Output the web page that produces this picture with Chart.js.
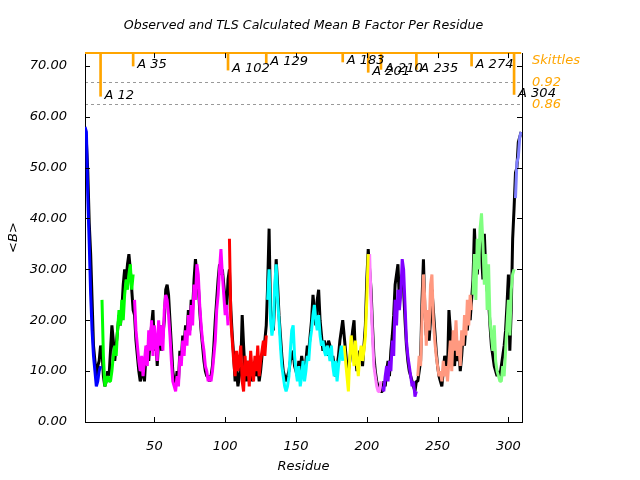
<!DOCTYPE html>
<html>
<head>
<meta charset="utf-8">
<script src="https://cdn.jsdelivr.net/npm/chart.js@4"></script>
<style>html,body{margin:0;padding:0;background:#fff}</style>
</head>
<body>
<canvas id="myChart" width="640" height="480"></canvas>
<script>
//------------------------ data ------------------------
// observed mean B per residue (residues 1..309)
var observedB = [
    54, 55, 49, 39, 33, 24, 15, 12, 9, 11, 12, 15,
    14, 9, 7, 8, 10, 9, 14, 19, 16, 12, 15, 18, 21, 19, 22, 27, 30, 28, 31, 33, 30, 26, 22,
    21, 16, 13, 10, 8, 9, 12, 8, 13, 15, 12, 16, 19, 22, 14, 17, 11, 16, 19, 14,
    17, 20, 26, 27, 25, 20, 15, 10, 8, 7, 10, 8, 14, 12, 17, 15, 19, 17, 22, 18,
    24, 22, 28, 32, 29, 27, 22, 18, 15, 12, 10, 9, 9, 8, 9, 11, 15, 20, 24, 28,
    31, 29, 30, 27, 24, 22, 28,
    30, 22, 17, 13, 8, 10, 7, 9, 11, 21, 15, 10, 8, 12, 9, 11, 8, 10, 12, 9, 11, 8, 10, 13, 15, 16, 19,
    27, 38, 22, 19, 18, 24, 32, 27, 21, 17, 13, 10, 9, 8, 9, 10, 12, 13, 14, 11,
    10, 9, 12, 10, 13, 11, 9, 12, 15, 14, 17, 20, 25, 22, 19, 24, 26, 20, 17, 14,
    16, 15, 13, 16, 15, 12, 13, 11, 9, 11, 13, 16, 18, 20,
    17, 14, 11, 10, 12, 15, 18, 20, 13, 10, 12, 14, 13, 11, 15, 19, 28, 34,
    30, 26, 19, 13, 10, 8, 7, 7, 6,
    6, 8, 7, 10, 12, 9, 14, 17, 21, 27, 29, 31, 24, 27, 29, 26, 20, 15, 12, 10, 9, 8, 7, 6, 8,
    8, 10, 12, 24, 32, 22, 17, 19, 16, 20, 26, 22, 18, 14, 11, 9, 8, 7, 10, 13,
    12, 10, 22, 18, 13, 15, 11, 16, 12, 14, 10, 13, 17, 15, 19, 18, 22, 20, 24,
    28, 38, 31, 29, 34, 36, 33, 28, 37, 30, 26, 24, 19, 15, 13, 11, 10, 9, 10, 9,
    11, 13, 15, 18, 23, 29, 14, 22, 36, 42,
    49, 50, 55, 56, 57
];
// TLS calculated mean B per residue
var tlsB = [
    58, 57, 44, 35, 25, 18, 13, 10, 7, 8, 10, 11,
    24, 13, 7, 8, 9, 8, 8, 10, 13, 15, 13, 18, 22, 19, 24, 20, 25, 28, 26, 29, 31, 26, 29,
    24, 18, 15, 12, 10, 13, 9, 12, 15, 11, 18, 14, 20, 13, 19, 16, 12, 20, 15, 19,
    14, 22, 25, 24, 21, 17, 12, 8, 7, 6, 9, 7, 13, 11, 16, 13, 18, 15, 21, 17,
    23, 19, 27, 24, 31, 29, 23, 19, 16, 14, 11, 10, 8, 9, 8, 10, 13, 16, 22, 25,
    30, 34, 29, 25, 21, 23, 19,
    36, 20, 16, 12, 9, 14, 10, 12, 15, 8, 6, 13, 9, 12, 7, 14, 10, 8, 13, 10, 15, 9, 12, 14, 16, 13, 17,
    24, 30, 20, 17, 19, 27, 31, 24, 20, 15, 11, 9, 7, 6, 7, 9, 14, 18, 19, 13,
    10, 8, 11, 7, 9, 12, 8, 10, 13, 12, 16, 18, 21, 23, 20, 18, 21, 17, 15, 16,
    14, 13, 15, 14, 12, 15, 11, 9, 12, 8, 11, 13, 15, 12,
    15, 12, 9, 6, 13, 17, 14, 11, 16, 12, 9, 13, 15, 12, 14, 17, 24, 33,
    33, 24, 17, 11, 9, 7, 6, 6, 8,
    7, 6, 9, 11, 8, 12, 10, 16, 13, 24, 19, 26, 22, 25, 32, 30, 23, 16, 13, 11, 9, 7, 8, 5, 6,
    9, 13, 11, 20, 29, 24, 15, 22, 18, 27, 29, 20, 16, 13, 11, 9, 10, 8, 12, 9,
    11, 8, 12, 16, 10, 18, 14, 20, 13, 16, 11, 18, 15, 21, 17, 24, 19, 25, 22,
    25, 33, 24, 36, 30, 38, 41, 35, 27, 33, 22, 31, 20, 17, 14, 19, 12, 10, 9, 8,
    8, 11, 9, 14, 19, 24, 17, 26, 29, 30,
    44, 51, 52, 56, 57
];
// last residue of each TLS group and its colour
var groupEnds = [12, 35, 102, 129, 183, 201, 210, 235, 274, 304, 309];
var groupColors = ['#0000ff', '#00ff00', '#ff00ff', '#ff0000', '#00ffff', '#ffff00',
                   '#ff80ff', '#8000ff', '#ff9980', '#80ff80', '#8080ff'];
var xTicks = [50, 100, 150, 200, 250, 300];
var yTicks = [0, 10, 20, 30, 40, 50, 60, 70];
// skittles strip
var skittlesResidues = [12, 35, 102, 129, 183, 201, 210, 235, 274, 304];
var skittlesLabels = ['A 12', 'A 35', 'A 102', 'A 129', 'A 183', 'A 201', 'A 210', 'A 235', 'A 274', 'A 304'];
var skittlesValues = [0.883, 0.965, 0.954, 0.973, 0.976, 0.948, 0.956, 0.956, 0.965, 0.888];
var skittlesTicks = [0.86, 0.92];
var skittlesTitleAt = 0.98;

var FONT = 'DejaVu Sans';
Chart.defaults.font.family = FONT;
Chart.defaults.font.size = 13;
Chart.defaults.font.style = 'italic';
Chart.defaults.color = '#000';

//------------------------ datasets ------------------------
var datasets = [];
datasets.push({
    label: 'Observed',
    data: observedB.map(function (v, i) { return {x: i + 1, y: v}; }),
    borderColor: '#000', borderWidth: 3, pointRadius: 0, borderJoinStyle: 'bevel',
    order: 3
});
var start = 1;
groupEnds.forEach(function (end, g) {
    var pts = [];
    for (var r = start; r <= end; r++) pts.push({x: r, y: tlsB[r - 1]});
    datasets.push({
        label: 'TLS ' + (g + 1),
        data: pts,
        borderColor: groupColors[g], borderWidth: 3, pointRadius: 0, borderJoinStyle: 'bevel',
        order: 2
    });
    start = end + 1;
});
// skittles: top line and boundary spikes
datasets.push({
    type: 'line', label: 'Skittles', yAxisID: 'y2',
    data: [{x: 1, y: 1}, {x: groupEnds[groupEnds.length - 1], y: 1}],
    borderColor: '#ffa500', borderWidth: 2, pointRadius: 0, clip: false, order: 1
});
datasets.push({
    type: 'bar', label: 'Boundaries', yAxisID: 'y2',
    data: skittlesResidues.map(function (r, i) { return {x: r, y: [skittlesValues[i], 1]}; }),
    backgroundColor: '#ffa500', barThickness: 2, grouped: false, order: 1
});

//------------------------ inward ticks + boundary labels ------------------------
var frameTicks = {
    id: 'frameTicks',
    afterDraw: function (chart) {
        var ctx = chart.ctx, a = chart.chartArea;
        var x = chart.scales.x, y = chart.scales.y, y2 = chart.scales.y2;
        ctx.save();
        ctx.strokeStyle = '#000';
        ctx.lineWidth = 1;
        ctx.beginPath();
        x.ticks.forEach(function (t) {
            var px = Math.round(x.getPixelForValue(t.value)) + 0.5;
            ctx.moveTo(px, a.bottom); ctx.lineTo(px, a.bottom - 5);
            ctx.moveTo(px, a.top); ctx.lineTo(px, a.top + 5);
        });
        y.ticks.forEach(function (t) {
            var py = Math.round(y.getPixelForValue(t.value)) + 0.5;
            ctx.moveTo(a.left, py); ctx.lineTo(a.left + 5, py);
            ctx.moveTo(a.right, py); ctx.lineTo(a.right - 5, py);
        });
        ctx.stroke();
        ctx.fillStyle = '#000';
        ctx.font = 'italic 13px "' + FONT + '"';
        ctx.textBaseline = 'middle';
        skittlesResidues.forEach(function (r, i) {
            ctx.fillText(skittlesLabels[i], x.getPixelForValue(r) + 4, y2.getPixelForValue(skittlesValues[i]) - 1);
        });
        ctx.restore();
    }
};

var ctx = document.getElementById('myChart').getContext('2d');
var myChart = new Chart(ctx, {
    type: 'line',
    data: {datasets: datasets},
    plugins: [frameTicks],
    options: {
        responsive: false,
        animation: false,
        layout: {padding: 0},
        plugins: {
            legend: {display: false},
            tooltip: {enabled: false},
            title: {
                display: true, fullSize: false,
                text: 'Observed and TLS Calculated Mean B Factor Per Residue',
                font: {size: 12.6, style: 'italic', weight: 'normal'},
                color: '#000',
                padding: {top: 18, bottom: 20}
            }
        },
        scales: {
            x: {
                type: 'linear', min: 1, max: 309.6, offset: false,
                afterBuildTicks: function (s) { s.ticks = xTicks.map(function (v) { return {value: v}; }); },
                afterFit: function (s) { s.height = 58; },
                ticks: {padding: 9, maxRotation: 0, autoSkip: false},
                grid: {display: false},
                border: {display: true, color: '#000', width: 1},
                title: {display: true, text: 'Residue', padding: {top: 0, bottom: 6}}
            },
            y: {
                position: 'left', min: 0, max: 72.5,
                afterBuildTicks: function (s) { s.ticks = yTicks.map(function (v) { return {value: v}; }); },
                afterFit: function (s) { s.width = 85; },
                ticks: {padding: 10, callback: function (v) { return v.toFixed(2); }},
                grid: {display: false},
                border: {display: true, color: '#000', width: 1},
                title: {display: true, text: '<B>', padding: {top: 6, bottom: 0}}
            },
            y2: {
                position: 'right', min: 0, max: 1,
                afterBuildTicks: function (s) {
                    s.ticks = skittlesTicks.concat([skittlesTitleAt]).map(function (v) { return {value: v}; });
                },
                afterFit: function (s) { s.width = 118; },
                ticks: {
                    padding: 10, color: '#ffa500',
                    callback: function (v) { return v === skittlesTitleAt ? 'Skittles' : v.toFixed(2); }
                },
                grid: {
                    display: true, drawOnChartArea: true, drawTicks: false, lineWidth: 1,
                    color: function (c) { return c.tick && c.tick.value !== skittlesTitleAt ? '#999' : 'rgba(0,0,0,0)'; }
                },
                border: {display: true, color: '#000', width: 1, dash: [3, 3]}
            }
        }
    }
});
</script>
</body>
</html>
